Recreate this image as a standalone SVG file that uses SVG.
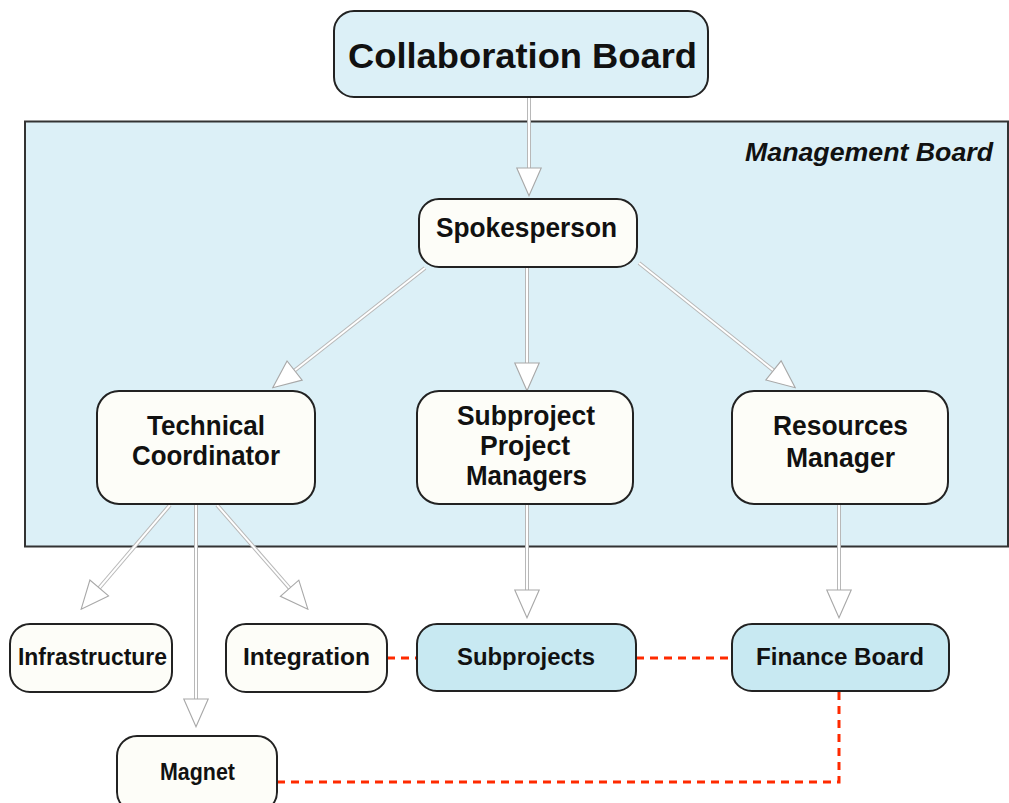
<svg xmlns="http://www.w3.org/2000/svg" width="1009" height="803" viewBox="0 0 1009 803">
<style>
.node{stroke:#222;stroke-width:2}
.white{fill:#fdfdf8}
.lb{fill:#dcf0f7}
.blue{fill:#c8e9f2}
text{font-family:"Liberation Sans",Arial,sans-serif;font-weight:bold;fill:#111;text-anchor:middle}
.t28{font-size:28px}
.t24{font-size:24px}
.sh{stroke:#b8b8b8;stroke-width:4;fill:none}
.sw{stroke:#ffffff;stroke-width:2;fill:none}
.red{stroke:#ff2a00;stroke-width:3;fill:none;stroke-dasharray:8 6}
</style>
<defs>
<marker id="ah" markerUnits="userSpaceOnUse" markerWidth="30" markerHeight="30" viewBox="0 0 27 24" refX="1" refY="12" orient="auto">
<path d="M1,1 L26,12 L1,23 Z" fill="#ffffff" stroke="#a8a8a8" stroke-width="1"/>
</marker>
</defs>

<g id="management-board">
<rect x="25" y="121.5" width="983" height="425" fill="#dcf0f7" stroke="#333" stroke-width="2"/>
<text x="869" y="161" font-size="26" font-style="italic" textLength="248" lengthAdjust="spacingAndGlyphs">Management Board</text>
</g>

<g id="connectors">
<g>
<line class="sh" x1="529" y1="97" x2="529" y2="168"/>
<line class="sw" x1="529" y1="97" x2="529" y2="168" marker-end="url(#ah)"/>
</g>
<g>
<line class="sh" x1="425" y1="268" x2="294.6" y2="370.5"/>
<line class="sw" x1="425" y1="268" x2="294.6" y2="370.5" marker-end="url(#ah)"/>
</g>
<g>
<line class="sh" x1="527" y1="267" x2="527" y2="363"/>
<line class="sw" x1="527" y1="267" x2="527" y2="363" marker-end="url(#ah)"/>
</g>
<g>
<line class="sh" x1="639" y1="263" x2="773.5" y2="370.4"/>
<line class="sw" x1="639" y1="263" x2="773.5" y2="370.4" marker-end="url(#ah)"/>
</g>
<g>
<line class="sh" x1="170" y1="505" x2="99.2" y2="588"/>
<line class="sw" x1="170" y1="505" x2="99.2" y2="588" marker-end="url(#ah)"/>
</g>
<g>
<line class="sh" x1="196" y1="505" x2="196" y2="699"/>
<line class="sw" x1="196" y1="505" x2="196" y2="699" marker-end="url(#ah)"/>
</g>
<g>
<line class="sh" x1="217" y1="505" x2="289.6" y2="588.2"/>
<line class="sw" x1="217" y1="505" x2="289.6" y2="588.2" marker-end="url(#ah)"/>
</g>
<g>
<line class="sh" x1="527" y1="504" x2="527" y2="590"/>
<line class="sw" x1="527" y1="504" x2="527" y2="590" marker-end="url(#ah)"/>
</g>
<g>
<line class="sh" x1="839" y1="504" x2="839" y2="590"/>
<line class="sw" x1="839" y1="504" x2="839" y2="590" marker-end="url(#ah)"/>
</g>
<path class="red" d="M387,658 L417,658"/>
<path class="red" d="M636,658 L732,658"/>
<path class="red" d="M839,692 L839,782 L278,782"/>
</g>

<g id="collaboration-board">
<rect class="node lb" x="334" y="11" width="374" height="86" rx="20"/>
<text x="522.5" y="68" font-size="35" textLength="349" lengthAdjust="spacingAndGlyphs">Collaboration Board</text>
</g>

<g id="spokesperson">
<rect class="node white" x="419" y="199" width="218" height="68" rx="20"/>
<text class="t28" x="526.5" y="237" textLength="181" lengthAdjust="spacingAndGlyphs">Spokesperson</text>
</g>

<g id="technical-coordinator">
<rect class="node white" x="97" y="391" width="218" height="113" rx="22"/>
<text class="t28" x="206" y="435" textLength="118" lengthAdjust="spacingAndGlyphs">Technical</text>
<text class="t28" x="206" y="465" textLength="148" lengthAdjust="spacingAndGlyphs">Coordinator</text>
</g>

<g id="subproject-project-managers">
<rect class="node white" x="417" y="391" width="216" height="113" rx="22"/>
<text class="t28" x="526" y="425" textLength="138" lengthAdjust="spacingAndGlyphs">Subproject</text>
<text class="t28" x="525" y="455" textLength="90" lengthAdjust="spacingAndGlyphs">Project</text>
<text class="t28" x="526.5" y="485" textLength="121" lengthAdjust="spacingAndGlyphs">Managers</text>
</g>

<g id="resources-manager">
<rect class="node white" x="732" y="391" width="216" height="113" rx="22"/>
<text class="t28" x="840.5" y="435" textLength="135" lengthAdjust="spacingAndGlyphs">Resources</text>
<text class="t28" x="840.5" y="467" textLength="109" lengthAdjust="spacingAndGlyphs">Manager</text>
</g>

<g id="infrastructure">
<rect class="node white" x="10" y="624" width="162" height="68" rx="20"/>
<text class="t24" x="92.5" y="665" textLength="149" lengthAdjust="spacingAndGlyphs">Infrastructure</text>
</g>

<g id="integration">
<rect class="node white" x="226" y="624" width="161" height="68" rx="20"/>
<text class="t24" x="306.5" y="665" textLength="127" lengthAdjust="spacingAndGlyphs">Integration</text>
</g>

<g id="subprojects">
<rect class="node blue" x="417" y="624" width="219" height="67" rx="20"/>
<text class="t24" x="526" y="665" textLength="138" lengthAdjust="spacingAndGlyphs">Subprojects</text>
</g>

<g id="finance-board">
<rect class="node blue" x="732" y="624" width="217" height="67" rx="20"/>
<text class="t24" x="840" y="665" textLength="168" lengthAdjust="spacingAndGlyphs">Finance Board</text>
</g>

<g id="magnet">
<rect class="node white" x="117" y="736" width="160" height="76" rx="20"/>
<text class="t24" x="197.5" y="780" textLength="75" lengthAdjust="spacingAndGlyphs">Magnet</text>
</g>
</svg>
